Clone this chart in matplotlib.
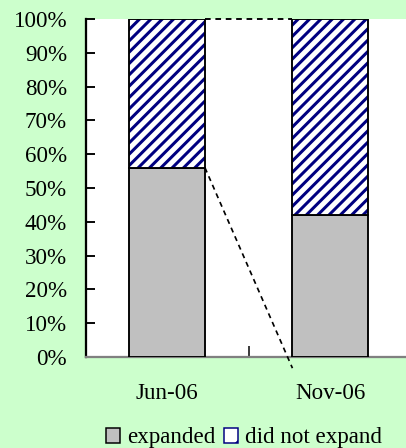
import numpy as np
import matplotlib.pyplot as plt
from matplotlib.patches import Patch
from matplotlib.ticker import PercentFormatter

categories = ['Jun-06', 'Nov-06']
expanded = [0.56, 0.42]
did_not_expand = [0.44, 0.58]
# where the drawn series line for "expanded" ends on the Nov-06 bar
series_line_end = -0.033

plt.rcParams['font.family'] = ['Liberation Serif', 'DejaVu Serif']
plt.rcParams['font.size'] = 12.2
plt.rcParams['hatch.linewidth'] = 1.6

dpi = 136
fig = plt.figure(figsize=(406 / dpi, 448 / dpi), dpi=dpi, facecolor='#CCFFCC')
ax = fig.add_axes([86 / 406, 1 - 357 / 448, 1 - 86 / 406, (357 - 19) / 448])
ax.set_facecolor('white')

x = np.arange(len(categories))
w = 0.465

ax.bar(x, expanded, w, color='#C0C0C0', edgecolor='black', linewidth=1.0, zorder=3)
# hatched part: navy stripes, then black outline on top
ax.bar(x, did_not_expand, w, bottom=expanded, color='white', edgecolor='#000080',
       hatch='////', linewidth=0, zorder=3)
ax.bar(x, did_not_expand, w, bottom=expanded, fill=False, edgecolor='black',
       linewidth=1.0, zorder=4)

# series lines
tops = [e + d for e, d in zip(expanded, did_not_expand)]
ax.plot([x[0] + w / 2, x[1] - w / 2], [tops[0], tops[1]], ls=(0, (3, 2.5)),
        color='black', lw=1.0, zorder=5, clip_on=False)
ax.plot([x[0] + w / 2, x[1] - w / 2], [expanded[0], series_line_end], ls=(0, (3, 2.5)),
        color='black', lw=0.9, zorder=5, clip_on=False)

ax.set_xlim(-0.495, 1.462)
ax.set_ylim(0, 1)
ax.set_yticks(np.arange(0, 1.01, 0.1))
ax.yaxis.set_major_formatter(PercentFormatter(1.0, decimals=0))
ax.set_xticks([0.5])
ax.set_xticklabels([''])
ax.set_xticks(x, minor=True)
ax.set_xticklabels(categories, minor=True)

ax.tick_params(axis='y', direction='in', length=5, width=1, pad=10)
ax.tick_params(axis='x', which='major', direction='in', length=6, width=1, color='#333333')
ax.tick_params(axis='x', which='minor', length=0, pad=14)

for s in ['top', 'right']:
    ax.spines[s].set_visible(False)
ax.spines['left'].set_linewidth(1.2)
ax.spines['bottom'].set_color('#808080')
ax.spines['bottom'].set_linewidth(1.2)

handles = [Patch(facecolor='#C0C0C0', edgecolor='black', lw=0.8, label='expanded'),
           Patch(facecolor='white', edgecolor='#000080', hatch='/', lw=0.8, label='did not expand')]
fig.legend(handles=handles, loc='center', bbox_to_anchor=(244 / 406, 1 - 438 / 448),
           ncol=2, frameon=False, handlelength=0.6, handleheight=0.6,
           handletextpad=0.3, columnspacing=0.4, borderpad=0)

fig.savefig('out.png', dpi=dpi, facecolor=fig.get_facecolor())
